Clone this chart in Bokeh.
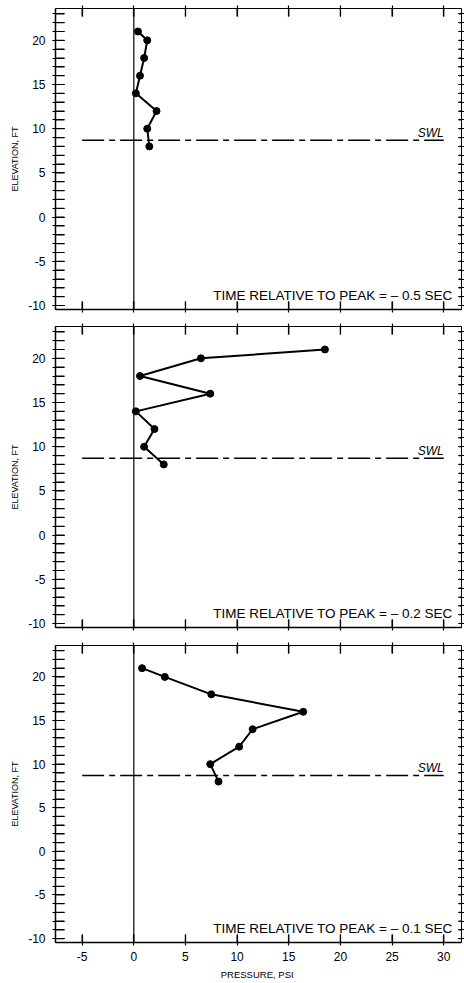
from bokeh.plotting import figure
from bokeh.models import Range1d, LinearAxis, FixedTicker, Span, Label, ColumnDataSource
from bokeh.layouts import column
from bokeh.embed import file_html
from bokeh.resources import INLINE

# ---------------- data ----------------
elevation_ft = [21, 20, 18, 16, 14, 12, 10, 8]
pressure_t05 = [0.4, 1.3, 1.0, 0.6, 0.2, 2.2, 1.3, 1.5]
pressure_t02 = [18.5, 6.5, 0.6, 7.4, 0.2, 2.0, 1.0, 2.9]
pressure_t01 = [0.8, 3.0, 7.5, 16.4, 11.5, 10.2, 7.4, 8.2]
time_labels = ["TIME RELATIVE TO PEAK = \u2013 0.5 SEC",
               "TIME RELATIVE TO PEAK = \u2013 0.2 SEC",
               "TIME RELATIVE TO PEAK = \u2013 0.1 SEC"]
swl_elevation = 8.7
swl_x = [-5, 30]
x_ticks = [-5, 0, 5, 10, 15, 20, 25, 30]
y_ticks = [-10, -5, 0, 5, 10, 15, 20]
y_minor = list(range(-10, 24))

X_MIN, X_MAX = -7.58, 31.72
Y_MIN, Y_MAX = -10.45, 23.6
FRAME_W, FRAME_H = 406, 301
PX_X = FRAME_W / (X_MAX - X_MIN)   # pixels per psi
PX_Y = FRAME_H / (Y_MAX - Y_MIN)   # pixels per ft
FONT = "Liberation Sans"


def inward_ticks(p):
    # inward tick marks at the tick values, drawn from the frame edges
    n = len(x_ticks)
    p.segment(x0=x_ticks, y0=[Y_MIN] * n, x1=x_ticks, y1=[Y_MIN + 8 / PX_Y] * n,
              line_color="black", line_width=1.2)
    p.segment(x0=x_ticks, y0=[Y_MAX] * n, x1=x_ticks, y1=[Y_MAX - 8 / PX_Y] * n,
              line_color="black", line_width=1.2)
    m = len(y_minor)
    p.segment(x0=[X_MIN] * m, y0=y_minor, x1=[X_MIN + 9 / PX_X] * m, y1=y_minor,
              line_color="black", line_width=1.2)
    p.segment(x0=[X_MAX] * m, y0=y_minor, x1=[X_MAX - 3 / PX_X] * m, y1=y_minor,
              line_color="black", line_width=1.2)


def make_panel(pressure, tlabel, bottom, height, border_top, border_bottom):
    p = figure(width=464, height=height,
               x_range=Range1d(X_MIN, X_MAX), y_range=Range1d(Y_MIN, Y_MAX),
               output_backend="svg", toolbar_location=None,
               min_border_left=55, min_border_right=3, min_border_top=border_top,
               min_border_bottom=border_bottom)
    p.grid.visible = False
    p.outline_line_color = "black"
    p.outline_line_width = 1
    p.background_fill_color = "white"
    p.border_fill_color = "white"

    xa = p.xaxis[0]
    xa.ticker = FixedTicker(ticks=x_ticks)
    xa.major_tick_in = 8
    xa.major_tick_out = 3
    xa.minor_tick_in = 0
    xa.minor_tick_out = 0
    xa.axis_line_width = 1.5
    xa.axis_line_color = "black"
    xa.major_tick_line_color = "black"
    xa.major_tick_line_width = 1.2
    if bottom:
        xa.major_label_text_font = FONT
        xa.major_label_text_font_size = "12px"
        xa.major_label_text_color = "black"
        xa.major_label_standoff = 6
        xa.major_label_overrides = {-5: "-5"}
        xa.axis_label = "PRESSURE,  PSI"
        xa.axis_label_text_font = FONT
        xa.axis_label_text_font_size = "9.5px"
        xa.axis_label_text_font_style = "normal"
        xa.axis_label_text_color = "black"
        xa.axis_label_standoff = 5
    else:
        xa.major_label_overrides = {t: "" for t in x_ticks}
        xa.major_label_text_font_size = "1px"
        xa.major_label_standoff = 0

    ya = p.yaxis[0]
    ya.ticker = FixedTicker(ticks=y_ticks, minor_ticks=y_minor)
    ya.major_tick_in = 9
    ya.major_tick_out = 3
    ya.minor_tick_in = 9
    ya.minor_tick_out = 3
    ya.axis_line_width = 1.5
    ya.axis_line_color = "black"
    ya.major_tick_line_color = "black"
    ya.minor_tick_line_color = "black"
    ya.major_tick_line_width = 1.2
    ya.minor_tick_line_width = 1.2
    ya.major_label_text_font = FONT
    ya.major_label_text_font_size = "12px"
    ya.major_label_text_color = "black"
    ya.major_label_standoff = 7
    ya.major_label_overrides = {-10: "-10", -5: "-5"}
    ya.axis_label = "ELEVATION, FT"
    ya.axis_label_text_font = FONT
    ya.axis_label_text_font_size = "9px"
    ya.axis_label_text_font_style = "normal"
    ya.axis_label_text_color = "black"
    ya.axis_label_standoff = 5

    top = LinearAxis(ticker=FixedTicker(ticks=x_ticks),
                     major_tick_in=8, major_tick_out=3,
                     minor_tick_in=0, minor_tick_out=0,
                     major_label_overrides={t: "" for t in x_ticks},
                     major_label_text_font_size="1px", major_label_standoff=0,
                     axis_line_color=None, major_tick_line_color="black",
                     major_tick_line_width=1.2)
    p.add_layout(top, "above")

    right = LinearAxis(ticker=FixedTicker(ticks=y_minor),
                       major_tick_in=3, major_tick_out=3,
                       minor_tick_in=0, minor_tick_out=0,
                       major_label_overrides={t: "" for t in y_minor},
                       major_label_text_font_size="1px", major_label_standoff=0,
                       axis_line_color=None, major_tick_line_color="black",
                       major_tick_line_width=1.2)
    p.add_layout(right, "right")

    inward_ticks(p)

    p.add_layout(Span(location=0, dimension="height", line_color="black", line_width=1.2))

    p.line(swl_x, [swl_elevation] * len(swl_x), line_color="black",
           line_width=1.4, line_dash="22 5 6 5")
    p.add_layout(Label(x=swl_x[-1], y=swl_elevation, text="SWL", text_align="right",
                       text_baseline="bottom", text_font=FONT, text_font_size="12px",
                       text_font_style="italic", text_color="black"))

    src = ColumnDataSource(dict(x=pressure, y=elevation_ft))
    p.line("x", "y", source=src, line_color="black", line_width=2)
    p.scatter("x", "y", source=src, size=7, fill_color="black", line_color="black")

    p.add_layout(Label(x=30.85, y=-8.9, text=tlabel, text_align="right",
                       text_baseline="alphabetic", text_font=FONT,
                       text_font_size="13.5px", text_color="black"))
    return p


p1 = make_panel(pressure_t05, time_labels[0], False, 318, 8, 9)
p2 = make_panel(pressure_t02, time_labels[1], False, 318, 8, 9)
p3 = make_panel(pressure_t01, time_labels[2], True, 346, 9, 36)

layout = column(p1, p2, p3, spacing=0)
open("out.html", "w").write(file_html(layout, INLINE))
